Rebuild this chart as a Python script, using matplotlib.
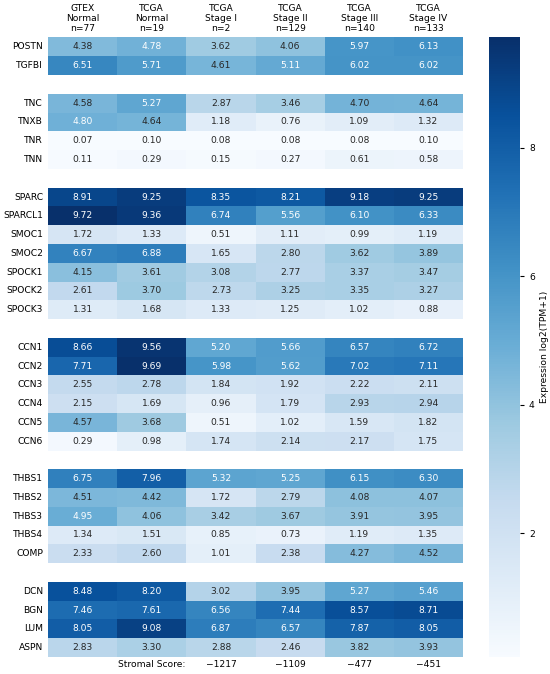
import matplotlib
matplotlib.use("Agg")
import matplotlib.pyplot as plt
import numpy as np
import pandas as pd
import seaborn as sns

# ── DATA ──
COLUMNS = [
    "GTEX\nNormal\nn=77",
    "TCGA\nNormal\nn=19",
    "TCGA\nStage I\nn=2",
    "TCGA\nStage II\nn=129",
    "TCGA\nStage III\nn=140",
    "TCGA\nStage IV\nn=133",
]

# gene groups, separated by blank rows in the heatmap
GROUP_GENES = [
    ["POSTN", "TGFBI"],
    ["TNC", "TNXB", "TNR", "TNN"],
    ["SPARC", "SPARCL1", "SMOC1", "SMOC2", "SPOCK1", "SPOCK2", "SPOCK3"],
    ["CCN1", "CCN2", "CCN3", "CCN4", "CCN5", "CCN6"],
    ["THBS1", "THBS2", "THBS3", "THBS4", "COMP"],
    ["DCN", "BGN", "LUM", "ASPN"],
]

POSTN = [4.38, 4.78, 3.62, 4.06, 5.97, 6.13]
TGFBI = [6.51, 5.71, 4.61, 5.11, 6.02, 6.02]
TNC = [4.58, 5.27, 2.87, 3.46, 4.70, 4.64]
TNXB = [4.80, 4.64, 1.18, 0.76, 1.09, 1.32]
TNR = [0.07, 0.10, 0.08, 0.08, 0.08, 0.10]
TNN = [0.11, 0.29, 0.15, 0.27, 0.61, 0.58]
SPARC = [8.91, 9.25, 8.35, 8.21, 9.18, 9.25]
SPARCL1 = [9.72, 9.36, 6.74, 5.56, 6.10, 6.33]
SMOC1 = [1.72, 1.33, 0.51, 1.11, 0.99, 1.19]
SMOC2 = [6.67, 6.88, 1.65, 2.80, 3.62, 3.89]
SPOCK1 = [4.15, 3.61, 3.08, 2.77, 3.37, 3.47]
SPOCK2 = [2.61, 3.70, 2.73, 3.25, 3.35, 3.27]
SPOCK3 = [1.31, 1.68, 1.33, 1.25, 1.02, 0.88]
CCN1 = [8.66, 9.56, 5.20, 5.66, 6.57, 6.72]
CCN2 = [7.71, 9.69, 5.98, 5.62, 7.02, 7.11]
CCN3 = [2.55, 2.78, 1.84, 1.92, 2.22, 2.11]
CCN4 = [2.15, 1.69, 0.96, 1.79, 2.93, 2.94]
CCN5 = [4.57, 3.68, 0.51, 1.02, 1.59, 1.82]
CCN6 = [0.29, 0.98, 1.74, 2.14, 2.17, 1.75]
THBS1 = [6.75, 7.96, 5.32, 5.25, 6.15, 6.30]
THBS2 = [4.51, 4.42, 1.72, 2.79, 4.08, 4.07]
THBS3 = [4.95, 4.06, 3.42, 3.67, 3.91, 3.95]
THBS4 = [1.34, 1.51, 0.85, 0.73, 1.19, 1.35]
COMP = [2.33, 2.60, 1.01, 2.38, 4.27, 4.52]
DCN = [8.48, 8.20, 3.02, 3.95, 5.27, 5.46]
BGN = [7.46, 7.61, 6.56, 7.44, 8.57, 8.71]
LUM = [8.05, 9.08, 6.87, 6.57, 7.87, 8.05]
ASPN = [2.83, 3.30, 2.88, 2.46, 3.82, 3.93]

STROMAL_SCORES = [None, None, -1217, -1109, -477, -451]

VALUES = {
    "POSTN": POSTN, "TGFBI": TGFBI, "TNC": TNC, "TNXB": TNXB, "TNR": TNR,
    "TNN": TNN, "SPARC": SPARC, "SPARCL1": SPARCL1, "SMOC1": SMOC1,
    "SMOC2": SMOC2, "SPOCK1": SPOCK1, "SPOCK2": SPOCK2, "SPOCK3": SPOCK3,
    "CCN1": CCN1, "CCN2": CCN2, "CCN3": CCN3, "CCN4": CCN4, "CCN5": CCN5,
    "CCN6": CCN6, "THBS1": THBS1, "THBS2": THBS2, "THBS3": THBS3,
    "THBS4": THBS4, "COMP": COMP, "DCN": DCN, "BGN": BGN, "LUM": LUM,
    "ASPN": ASPN,
}

# ── BUILD TABLE WITH BLANK SEPARATOR ROWS ──
rows, labels = [], []
for i, genes in enumerate(GROUP_GENES):
    if i > 0:
        rows.append([np.nan] * len(COLUMNS))
        labels.append("")
    for g in genes:
        rows.append(VALUES[g])
        labels.append(g)

df = pd.DataFrame(rows, index=labels, columns=COLUMNS)

# ── PLOT ──
FS = 6.6
fig = plt.figure(figsize=(5.5, 6.74), dpi=100)
ax = fig.add_axes([0.0873, 0.0252, 0.7545, 0.9192])
cax = fig.add_axes([0.889, 0.0252, 0.0564, 0.9192])

sns.heatmap(
    df, ax=ax, cbar_ax=cax, cmap="Blues",
    annot=True, fmt=".2f", annot_kws={"fontsize": FS},
    cbar_kws={"label": "Expression log2(TPM+1)"},
)

ax.xaxis.tick_top()
ax.set_xticklabels(COLUMNS, rotation=0, fontsize=FS, ha="center", linespacing=1.2)
ax.set_yticks(np.arange(len(labels)) + 0.5)
ax.set_yticklabels(labels, rotation=0, fontsize=FS)
ax.tick_params(length=0, pad=3.5)
ax.tick_params(axis="x", pad=3)

cax.tick_params(labelsize=FS, length=3)
cax.yaxis.label.set_size(FS)
cax.set_yticks([2, 4, 6, 8])

# stromal score row below the heatmap
n_rows = len(labels)
ax.text(1.5, n_rows + 0.4, "Stromal Score:", ha="center", va="center", fontsize=FS)
for j, s in enumerate(STROMAL_SCORES):
    if s is None:
        continue
    ax.text(j + 0.5, n_rows + 0.4, f"{s}".replace("-", "\u2212"),
            ha="center", va="center", fontsize=FS)

fig.savefig("out.png", dpi=100)
plt.close(fig)
